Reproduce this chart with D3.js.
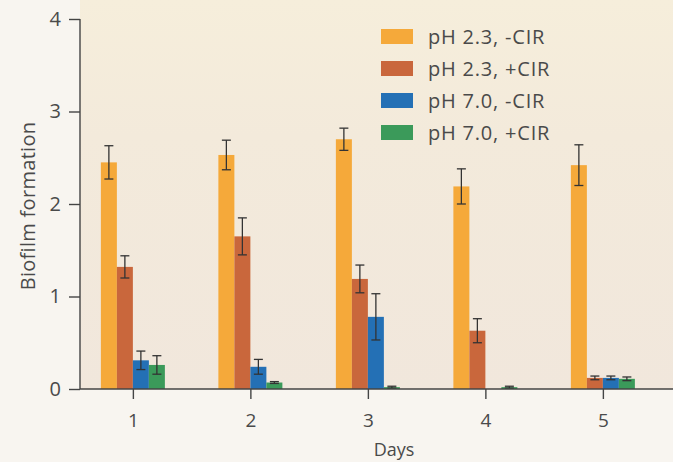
<!DOCTYPE html>
<html>
<head>
<meta charset="utf-8">
<script src="https://cdn.jsdelivr.net/npm/d3@7"></script>
<style>
  html, body { margin: 0; padding: 0; background: #f8f5f0; }
  svg { display: block; }
  text { font-family: "Open Sans", "Noto Sans", sans-serif; fill: #4a4a4a; }
</style>
</head>
<body>
<svg id="chart" width="673" height="462"></svg>
<script>
// ---- data ----
const days = ["1", "2", "3", "4", "5"];
const seriesNames = ["pH 2.3, -CIR", "pH 2.3, +CIR", "pH 7.0, -CIR", "pH 7.0, +CIR"];
const seriesColors = ["#f5a93a", "#c9673c", "#2470b5", "#3b9a5a"];
const ph23minus = [2.45, 2.53, 2.70, 2.19, 2.42];
const ph23minusErr = [0.18, 0.16, 0.12, 0.19, 0.22];
const ph23plus = [1.32, 1.65, 1.19, 0.63, 0.12];
const ph23plusErr = [0.12, 0.20, 0.15, 0.13, 0.02];
const ph70minus = [0.31, 0.24, 0.78, 0.00, 0.12];
const ph70minusErr = [0.10, 0.08, 0.25, 0.00, 0.02];
const ph70plus = [0.26, 0.07, 0.02, 0.02, 0.11];
const ph70plusErr = [0.10, 0.01, 0.01, 0.01, 0.02];
const yTicks = [0, 1, 2, 3, 4];

const seriesValues = [ph23minus, ph23plus, ph70minus, ph70plus];
const seriesErrors = [ph23minusErr, ph23plusErr, ph70minusErr, ph70plusErr];

// ---- layout ----
const svg = d3.select("#chart");
const W = 673, H = 462;
const axisX = 80, baseY = 389, topY = 19, rightX = 673;
const FONT = "'Open Sans', 'Noto Sans', sans-serif";

// backgrounds
svg.append("rect").attr("x", 0).attr("y", 0).attr("width", W).attr("height", H).attr("fill", "#f8f5f0");
const grad = svg.append("defs").append("linearGradient").attr("id", "bg")
  .attr("x1", 0).attr("y1", 0).attr("x2", 0).attr("y2", 1);
grad.append("stop").attr("offset", "0%").attr("stop-color", "#f6eedb");
grad.append("stop").attr("offset", "35%").attr("stop-color", "#f3eadb");
grad.append("stop").attr("offset", "100%").attr("stop-color", "#f1e7dc");
svg.append("rect").attr("x", axisX).attr("y", 0).attr("width", rightX - axisX).attr("height", baseY)
  .attr("fill", "url(#bg)");

const y = d3.scaleLinear().domain([0, 4]).range([baseY, topY]);
const x = d3.scalePoint().domain(days).range([axisX, 655.75]).padding(0.45);
const x1 = d3.scaleBand().domain(d3.range(seriesNames.length)).range([-32, 32]).padding(0);

// bars
const rows = [];
days.forEach((d, i) => {
  seriesValues.forEach((vals, s) => {
    rows.push({ day: d, s: s, v: vals[i], e: seriesErrors[s][i] });
  });
});

const g = svg.append("g");
g.selectAll("rect.bar").data(rows).join("rect")
  .attr("class", "bar")
  .attr("x", r => x(r.day) + x1(r.s))
  .attr("width", x1.bandwidth())
  .attr("y", r => y(r.v))
  .attr("height", r => y(0) - y(r.v))
  .attr("fill", r => seriesColors[r.s]);

// error bars
const cx = r => x(r.day) + x1(r.s) + x1.bandwidth() / 2;
const eb = g.selectAll("g.err").data(rows.filter(r => r.v > 0)).join("g").attr("class", "err")
  .attr("stroke", "#333").attr("stroke-width", 1.3).attr("fill", "none");
eb.append("line")
  .attr("x1", cx).attr("x2", cx)
  .attr("y1", r => y(r.v + r.e)).attr("y2", r => y(Math.max(0, r.v - r.e)));
eb.append("line")
  .attr("x1", r => cx(r) - 4.5).attr("x2", r => cx(r) + 4.5)
  .attr("y1", r => y(r.v + r.e)).attr("y2", r => y(r.v + r.e));
eb.append("line")
  .attr("x1", r => cx(r) - 4.5).attr("x2", r => cx(r) + 4.5)
  .attr("y1", r => y(Math.max(0, r.v - r.e))).attr("y2", r => y(Math.max(0, r.v - r.e)));

// y axis
const yAxis = svg.append("g").attr("transform", `translate(${axisX},0)`)
  .call(d3.axisLeft(y).tickValues(yTicks).tickFormat(d3.format("d")).tickSize(11).tickPadding(8));
yAxis.select(".domain").remove();
yAxis.append("line").attr("x1", 0).attr("x2", 0).attr("y1", topY).attr("y2", baseY)
  .attr("stroke", "#444").attr("stroke-width", 1.4);
yAxis.selectAll(".tick line").attr("stroke", "#444").attr("stroke-width", 1.4);
yAxis.selectAll(".tick text").attr("font-size", 20).style("fill", "#4a4a4a").attr("font-family", FONT);

// x axis
const xAxis = svg.append("g").attr("transform", `translate(0,${baseY})`)
  .call(d3.axisBottom(x).tickSize(10).tickPadding(15));
xAxis.select(".domain").remove();
xAxis.append("line").attr("x1", axisX).attr("x2", rightX).attr("y1", 0).attr("y2", 0)
  .attr("stroke", "#444").attr("stroke-width", 1.4);
xAxis.selectAll(".tick line").attr("stroke", "#444").attr("stroke-width", 1.4);
xAxis.selectAll(".tick text").attr("font-size", 19).style("fill", "#4a4a4a").attr("font-family", FONT);

// axis titles
svg.append("text").attr("transform", `translate(35,206) rotate(-90)`)
  .attr("text-anchor", "middle").attr("font-size", 20).attr("letter-spacing", 0.3)
  .text("Biofilm formation");
svg.append("text").attr("x", 394).attr("y", 456).attr("text-anchor", "middle")
  .attr("font-size", 18).text("Days");

// legend
const legend = svg.append("g").attr("transform", "translate(381,29)");
const li = legend.selectAll("g").data(seriesNames).join("g")
  .attr("transform", (d, i) => `translate(0,${i * 32})`);
li.append("rect").attr("width", 32).attr("height", 15).attr("fill", (d, i) => seriesColors[i]);
li.append("text").attr("x", 47).attr("y", 8).attr("dy", "0.36em").attr("font-size", 20)
  .attr("letter-spacing", 0.8).text(d => d);
</script>
</body>
</html>
